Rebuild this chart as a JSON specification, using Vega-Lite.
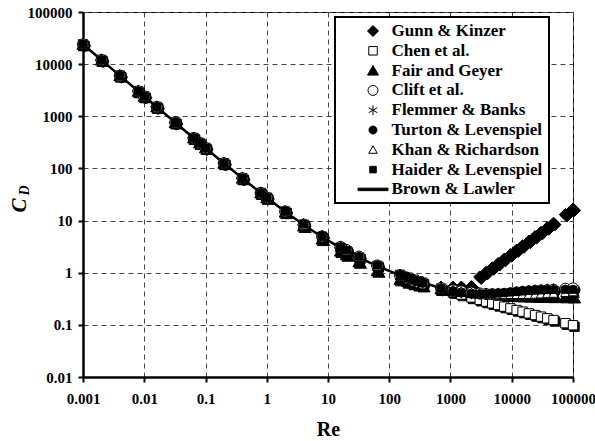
{
  "$schema": "https://vega.github.io/schema/vega-lite/v6.json",
  "width": 490,
  "height": 365,
  "autosize": {"type": "none"},
  "padding": {"left": 83, "top": 12, "right": 22, "bottom": 64},
  "background": "white",
  "config": {
    "view": {"stroke": "black", "strokeWidth": 1},
    "axis": {
      "labelFont": "Liberation Serif",
      "labelFontWeight": "bold",
      "labelFontSize": 15,
      "labelColor": "black",
      "titleFont": "Liberation Serif",
      "titleFontWeight": "bold",
      "titleColor": "black",
      "domainColor": "black",
      "domainWidth": 2.5,
      "tickColor": "black",
      "tickWidth": 2,
      "tickSize": 5,
      "gridColor": "#444444",
      "gridDash": [5, 4],
      "gridWidth": 1,
      "gridOpacity": 1
    },
    "legend": {
      "orient": "none",
      "legendX": 252,
      "legendY": 5,
      "padding": 5.5,
      "strokeColor": "black",
      "strokeWidth": 2,
      "fillColor": "white",
      "symbolOffset": 0,
      "labelOffset": 34,
      "rowPadding": 1.8,
      "labelFont": "Liberation Serif",
      "labelFontSize": 17,
      "labelFontWeight": "bold",
      "labelColor": "black",
      "symbolSize": 100,
      "symbolStrokeColor": "black",
      "symbolStrokeWidth": 1,
      "symbolOpacity": 1,
      "labelLimit": 400
    }
  },
  "data": {
    "values": [
      {"Re": 0.001, "s1": 24000, "s2": 24000, "s3": 24000, "s4": 24000, "s5": 24000, "s6": 24000, "s7": 24000, "s8": 24000, "s9": 24000},
      {"Re": 0.002, "s1": 12025, "s2": 12025, "s3": 12025, "s4": 12025, "s5": 12025, "s6": 12025, "s7": 12025, "s8": 12025, "s9": 12025},
      {"Re": 0.004, "s1": 6020, "s2": 6020, "s3": 6020, "s4": 6020, "s5": 6020, "s6": 6020, "s7": 6020, "s8": 6020, "s9": 6020},
      {"Re": 0.008, "s1": 3016, "s2": 3016, "s3": 3016, "s4": 3016, "s5": 3016, "s6": 3016, "s7": 3016, "s8": 3016, "s9": 3016},
      {"Re": 0.01, "s1": 2415, "s2": 2415, "s3": 2415, "s4": 2415, "s5": 2415, "s6": 2415, "s7": 2415, "s8": 2415, "s9": 2415},
      {"Re": 0.016, "s1": 1513, "s2": 1513, "s3": 1513, "s4": 1513, "s5": 1513, "s6": 1513, "s7": 1513, "s8": 1513, "s9": 1513},
      {"Re": 0.032, "s1": 761, "s2": 761, "s3": 761, "s4": 761, "s5": 761, "s6": 761, "s7": 761, "s8": 761, "s9": 761},
      {"Re": 0.064, "s1": 383.5, "s2": 383.5, "s3": 383.5, "s4": 383.5, "s5": 383.5, "s6": 383.5, "s7": 383.5, "s8": 383.5, "s9": 383.5},
      {"Re": 0.08, "s1": 308, "s2": 308, "s3": 308, "s4": 308, "s5": 308, "s6": 308, "s7": 308, "s8": 308, "s9": 308},
      {"Re": 0.1, "s1": 247.4, "s2": 247.4, "s3": 247.4, "s4": 247.4, "s5": 247.4, "s6": 247.4, "s7": 247.4, "s8": 247.4, "s9": 247.4},
      {"Re": 0.2, "s1": 126, "s2": 126, "s3": 126, "s4": 126, "s5": 126, "s6": 126, "s7": 126, "s8": 126, "s9": 126},
      {"Re": 0.4, "s1": 64.8, "s2": 64.8, "s3": 64.8, "s4": 64.8, "s5": 64.8, "s6": 64.8, "s7": 64.8, "s8": 64.8, "s9": 64.8},
      {"Re": 0.8, "s1": 33.9, "s2": 33.9, "s3": 33.9, "s4": 33.9, "s5": 33.9, "s6": 33.9, "s7": 33.9, "s8": 33.9, "s9": 33.9},
      {"Re": 1, "s1": 27.6, "s2": 27.6, "s3": 27.3, "s4": 27.6, "s5": 27.6, "s6": 27.6, "s7": 27.4, "s8": 27.6, "s9": 27.6},
      {"Re": 2, "s1": 14.9, "s2": 14.9, "s3": 14.5, "s4": 14.9, "s5": 15.1, "s6": 15.0, "s7": 14.7, "s8": 15.0, "s9": 14.8},
      {"Re": 4, "s1": 8.33, "s2": 8.33, "s3": 7.84, "s4": 8.4, "s5": 8.6, "s6": 8.45, "s7": 8.2, "s8": 8.5, "s9": 8.3},
      {"Re": 8, "s1": 4.88, "s2": 4.878, "s3": 4.401, "s4": 4.976, "s5": 5.17, "s6": 5.035, "s7": 4.937, "s8": 5.076, "s9": 4.855},
      {"Re": 16, "s1": 3.01, "s2": 3.011, "s3": 2.59, "s4": 3.122, "s5": 3.197, "s6": 3.105, "s7": 3.02, "s8": 3.124, "s9": 2.987},
      {"Re": 20, "s1": 2.61, "s2": 2.61, "s3": 2.211, "s4": 2.735, "s5": 2.753, "s6": 2.687, "s7": 2.607, "s8": 2.702, "s9": 2.585},
      {"Re": 32, "s1": 1.97, "s2": 1.966, "s3": 1.62, "s4": 2.04, "s5": 2.029, "s6": 2.016, "s7": 1.939, "s8": 2.0225, "s9": 1.943},
      {"Re": 64, "s1": 1.35, "s2": 1.354, "s3": 1.09, "s4": 1.374, "s5": 1.334, "s6": 1.374, "s7": 1.312, "s8": 1.373, "s9": 1.333},
      {"Re": 150, "s1": 0.9, "s2": 0.91, "s3": 0.745, "s4": 0.889, "s5": 0.852, "s6": 0.9105, "s7": 0.8757, "s8": 0.9042, "s9": 0.895},
      {"Re": 200, "s1": 0.8, "s2": 0.805, "s3": 0.672, "s4": 0.776, "s5": 0.7475, "s6": 0.8025, "s7": 0.779, "s8": 0.796, "s9": 0.7933},
      {"Re": 250, "s1": 0.73, "s2": 0.735, "s3": 0.626, "s4": 0.7, "s5": 0.679, "s6": 0.731, "s7": 0.7157, "s8": 0.7245, "s9": 0.7259},
      {"Re": 300, "s1": 0.68, "s2": 0.684, "s3": 0.593, "s4": 0.653, "s5": 0.6326, "s6": 0.6794, "s7": 0.6707, "s8": 0.673, "s9": 0.6773},
      {"Re": 350, "s1": 0.64, "s2": 0.644, "s3": 0.569, "s4": 0.619, "s5": 0.5958, "s6": 0.64, "s7": 0.6371, "s8": 0.6338, "s9": 0.64},
      {"Re": 700, "s1": 0.53, "s2": 0.4975, "s3": 0.488, "s4": 0.508, "s5": 0.479, "s6": 0.503, "s7": 0.5224, "s8": 0.4996, "s9": 0.51},
      {"Re": 1100, "s1": 0.53, "s2": 0.424, "s3": 0.452, "s4": 0.463, "s5": 0.4333, "s6": 0.444, "s7": 0.4725, "s8": 0.4435, "s9": 0.453},
      {"Re": 1500, "s1": 0.53, "s2": 0.381, "s3": 0.4335, "s4": 0.441, "s5": 0.4136, "s6": 0.416, "s7": 0.4461, "s8": 0.4175, "s9": 0.425},
      {"Re": 2200, "s1": 0.54, "s2": 0.3346, "s3": 0.415, "s4": 0.415, "s5": 0.398, "s6": 0.395, "s7": 0.4211, "s8": 0.398, "s9": 0.402},
      {"Re": 3000, "s1": 0.83, "s2": 0.3018, "s3": 0.4028, "s4": 0.4, "s5": 0.3914, "s6": 0.3877, "s7": 0.4058, "s8": 0.3917, "s9": 0.3923},
      {"Re": 3800, "s1": 1.016, "s2": 0.2791, "s3": 0.395, "s4": 0.3917, "s5": 0.3911, "s6": 0.3876, "s7": 0.397, "s8": 0.3916, "s9": 0.3896},
      {"Re": 4800, "s1": 1.241, "s2": 0.2586, "s3": 0.3883, "s4": 0.3877, "s5": 0.3945, "s6": 0.3915, "s7": 0.3901, "s8": 0.3952, "s9": 0.3906},
      {"Re": 6000, "s1": 1.502, "s2": 0.2405, "s3": 0.3827, "s4": 0.3877, "s5": 0.4006, "s6": 0.3983, "s7": 0.3851, "s8": 0.4011, "s9": 0.3945},
      {"Re": 7500, "s1": 1.819, "s2": 0.2237, "s3": 0.3778, "s4": 0.3921, "s5": 0.4047, "s6": 0.4071, "s7": 0.3817, "s8": 0.4089, "s9": 0.4005},
      {"Re": 9500, "s1": 2.226, "s2": 0.2073, "s3": 0.3733, "s4": 0.4023, "s5": 0.414, "s6": 0.4177, "s7": 0.3797, "s8": 0.4182, "s9": 0.4086},
      {"Re": 12000, "s1": 2.719, "s2": 0.1924, "s3": 0.3694, "s4": 0.419, "s5": 0.4287, "s6": 0.4285, "s7": 0.3792, "s8": 0.428, "s9": 0.4177},
      {"Re": 15000, "s1": 3.292, "s2": 0.1791, "s3": 0.3661, "s4": 0.4295, "s5": 0.4405, "s6": 0.4384, "s7": 0.3798, "s8": 0.437, "s9": 0.4266},
      {"Re": 19000, "s1": 4.03, "s2": 0.1661, "s3": 0.3631, "s4": 0.4397, "s5": 0.4565, "s6": 0.4479, "s7": 0.3814, "s8": 0.4457, "s9": 0.4358},
      {"Re": 24000, "s1": 4.922, "s2": 0.1542, "s3": 0.3604, "s4": 0.4487, "s5": 0.4673, "s6": 0.4558, "s7": 0.3845, "s8": 0.4533, "s9": 0.4438},
      {"Re": 30000, "s1": 5.958, "s2": 0.1437, "s3": 0.3581, "s4": 0.456, "s5": 0.4807, "s6": 0.4617, "s7": 0.3886, "s8": 0.4592, "s9": 0.4505},
      {"Re": 38000, "s1": 7.294, "s2": 0.1334, "s3": 0.356, "s4": 0.4626, "s5": 0.4873, "s6": 0.4664, "s7": 0.3942, "s8": 0.4641, "s9": 0.4563},
      {"Re": 48000, "s1": 8.907, "s2": 0.1238, "s3": 0.3542, "s4": 0.4717, "s5": 0.49, "s6": 0.4693, "s7": 0.4006, "s8": 0.4677, "s9": 0.4606},
      {"Re": 75000, "s1": 13.06, "s2": 0.1076, "s3": 0.3513, "s4": 0.494, "s5": 0.47, "s6": 0.4713, "s7": 0.4157, "s8": 0.4712, "s9": 0.4653},
      {"Re": 100000, "s1": 16.7, "s2": 0.0983, "s3": 0.3497, "s4": 0.5018, "s5": 0.435, "s6": 0.4708, "s7": 0.427, "s8": 0.4715, "s9": 0.4661}
    ]
  },
  "transform": [
    {"fold": ["s1", "s2", "s3", "s4", "s5", "s6", "s7", "s8", "s9"], "as": ["key", "CD"]}
  ],
  "encoding": {
    "x": {
      "field": "Re",
      "type": "quantitative",
      "scale": {"type": "log", "domain": [0.001, 100000], "nice": false},
      "axis": {
        "values": [0.001, 0.01, 0.1, 1, 10, 100, 1000, 10000, 100000],
        "labelExpr": "'' + datum.value",
        "labelPadding": 9,
        "labelFlush": false,
        "labelOverlap": false,
        "grid": true,
        "title": "Re",
        "titleFontSize": 20,
        "titleBaseline": "alphabetic",
        "titleX": 245,
        "titleY": 58
      }
    }
  },
  "layer": [
    {
      "transform": [{"filter": "datum.key == 's9'"}],
      "mark": {"type": "line", "stroke": "black", "strokeWidth": 2.5},
      "encoding": {
        "y": {
          "field": "CD",
          "type": "quantitative",
          "scale": {"type": "log", "domain": [0.01, 100000], "nice": false},
          "axis": {
            "orient": "left",
            "title": "D",
            "labels": false,
            "ticks": false,
            "domain": false,
            "grid": false,
            "titleFontSize": 14,
            "titleFontStyle": "italic",
            "titleAngle": -90,
            "titleAlign": "center",
            "titleBaseline": "middle",
            "titleX": -59,
            "titleY": 178
          }
        }
      }
    },
    {
      "transform": [{"filter": "datum.key != 's9'"}],
      "mark": {"type": "point", "filled": true, "fill": "black", "stroke": "black", "strokeWidth": 1, "size": 121, "opacity": 1, "xOffset": 1.5, "yOffset": 1.5},
      "encoding": {
        "y": {
          "field": "CD",
          "type": "quantitative",
          "scale": {"type": "log", "domain": [0.01, 100000], "nice": false},
          "axis": null
        },
        "order": {"field": "key", "type": "nominal"},
        "shape": {
          "field": "key",
          "type": "nominal",
          "legend": null,
          "scale": {
            "domain": ["s1", "s2", "s3", "s4", "s5", "s6", "s7", "s8"],
            "range": [
              "M0,-1.1L1.1,0L0,1.1L-1.1,0Z",
              "M-0.85,-0.85H0.85V0.85H-0.85Z",
              "M0,-1L1.1,0.9H-1.1Z",
              "M1,0A1,1,0,1,1,-1,0A1,1,0,1,1,1,0Z",
              "M0,-1V1M-0.87,-0.5L0.87,0.5M-0.87,0.5L0.87,-0.5",
              "M0.8,0A0.8,0.8,0,1,1,-0.8,0A0.8,0.8,0,1,1,0.8,0Z",
              "M0,-0.8L0.85,0.7H-0.85Z",
              "M-0.65,-0.65H0.65V0.65H-0.65Z"
            ]
          }
        }
      }
    },
    {
      "transform": [{"filter": "datum.key != 's9'"}],
      "mark": {"type": "point", "filled": true, "stroke": "black", "strokeWidth": 1, "size": 121, "opacity": 1},
      "encoding": {
        "y": {
          "field": "CD",
          "type": "quantitative",
          "scale": {"type": "log", "domain": [0.01, 100000], "nice": false},
          "axis": {
            "orient": "left",
            "grid": true,
            "values": [0.01, 0.1, 1, 10, 100, 1000, 10000, 100000],
            "labelExpr": "'' + datum.value",
            "labelPadding": 6,
            "labelOverlap": false,
            "labelFlush": false,
            "title": "C",
            "titleFontSize": 21,
            "titleFontStyle": "italic",
            "titleAngle": -90,
            "titleAlign": "center",
            "titleBaseline": "middle",
            "titleX": -64,
            "titleY": 193
          }
        },
        "order": {"field": "key", "type": "nominal"},
        "shape": {
          "field": "key",
          "type": "nominal",
          "legend": null,
          "scale": {
            "domain": ["s1", "s2", "s3", "s4", "s5", "s6", "s7", "s8"],
            "range": [
              "M0,-1.1L1.1,0L0,1.1L-1.1,0Z",
              "M-0.85,-0.85H0.85V0.85H-0.85Z",
              "M0,-1L1.1,0.9H-1.1Z",
              "M1,0A1,1,0,1,1,-1,0A1,1,0,1,1,1,0Z",
              "M0,-1V1M-0.87,-0.5L0.87,0.5M-0.87,0.5L0.87,-0.5",
              "M0.8,0A0.8,0.8,0,1,1,-0.8,0A0.8,0.8,0,1,1,0.8,0Z",
              "M0,-0.8L0.85,0.7H-0.85Z",
              "M-0.65,-0.65H0.65V0.65H-0.65Z"
            ]
          }
        },
        "fill": {
          "field": "key",
          "type": "nominal",
          "legend": null,
          "scale": {
            "domain": ["s1", "s2", "s3", "s4", "s5", "s6", "s7", "s8"],
            "range": ["black", "white", "black", "white", "transparent", "black", "white", "black"]
          }
        }
      }
    },
    {
      "transform": [{"filter": "datum.Re == 0.001"}],
      "mark": {"type": "point", "filled": true, "size": 100, "opacity": 0},
      "encoding": {
        "y": {
          "field": "CD",
          "type": "quantitative",
          "scale": {"type": "log", "domain": [0.01, 100000], "nice": false},
          "axis": null
        },
        "shape": {
          "field": "key",
          "type": "nominal",
          "scale": {
            "domain": ["s1", "s2", "s3", "s4", "s5", "s6", "s7", "s8", "s9"],
            "range": [
              "M0,-1.1L1.1,0L0,1.1L-1.1,0Z",
              "M-0.85,-0.85H0.85V0.85H-0.85Z",
              "M0,-1L1.1,0.9H-1.1Z",
              "M1,0A1,1,0,1,1,-1,0A1,1,0,1,1,1,0Z",
              "M0,-1V1M-0.87,-0.5L0.87,0.5M-0.87,0.5L0.87,-0.5",
              "M0.8,0A0.8,0.8,0,1,1,-0.8,0A0.8,0.8,0,1,1,0.8,0Z",
              "M0,-0.8L0.85,0.7H-0.85Z",
              "M-0.65,-0.65H0.65V0.65H-0.65Z",
              "M-3,-0.25H3V0.25H-3Z"
            ]
          },
          "legend": {
            "title": null,
            "labelExpr": "['Gunn & Kinzer','Chen et al.','Fair and Geyer','Clift et al.','Flemmer & Banks','Turton & Levenspiel','Khan & Richardson','Haider & Levenspiel','Brown & Lawler'][toNumber(substring(datum.label,1)) - 1] + '         '",
            "encode": {
              "symbols": {"update": {"x": {"value": 32.5}, "stroke": {"value": "black"}, "strokeWidth": {"value": 1}, "size": {"value": 100}, "opacity": {"value": 1}}}
            }
          }
        },
        "fill": {
          "field": "key",
          "type": "nominal",
          "scale": {
            "domain": ["s1", "s2", "s3", "s4", "s5", "s6", "s7", "s8", "s9"],
            "range": ["black", "white", "black", "white", "transparent", "black", "white", "black", "black"]
          },
          "legend": {
            "title": null,
            "labelExpr": "['Gunn & Kinzer','Chen et al.','Fair and Geyer','Clift et al.','Flemmer & Banks','Turton & Levenspiel','Khan & Richardson','Haider & Levenspiel','Brown & Lawler'][toNumber(substring(datum.label,1)) - 1] + '         '",
            "encode": {
              "symbols": {"update": {"x": {"value": 32.5}, "stroke": {"value": "black"}, "strokeWidth": {"value": 1}, "size": {"value": 100}, "opacity": {"value": 1}}}
            }
          }
        }
      }
    }
  ],
  "resolve": {"scale": {"y": "independent", "shape": "independent", "fill": "independent"}}
}
